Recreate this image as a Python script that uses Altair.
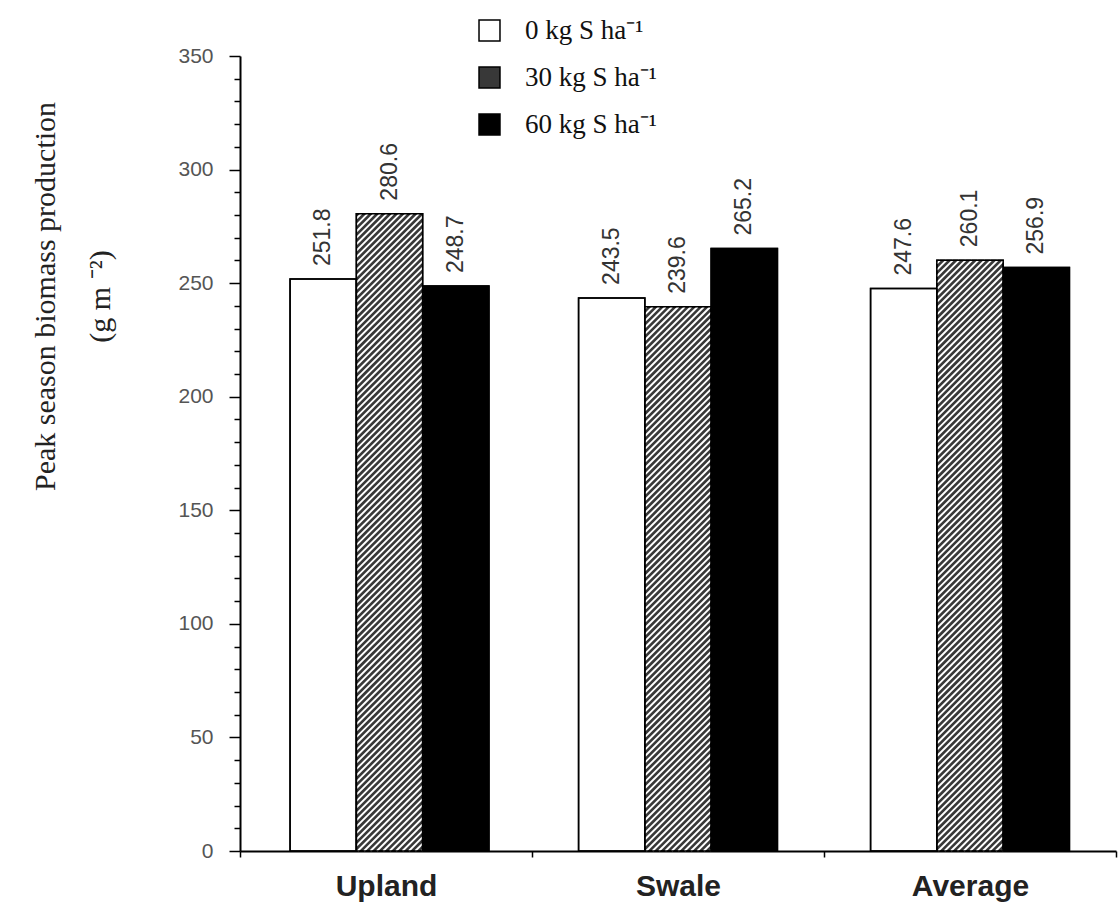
import altair as alt
import pandas as pd

# ---------------- data ----------------
sites = ["Upland", "Swale", "Average"]
treatments = ["0 kg S ha⁻¹", "30 kg S ha⁻¹", "60 kg S ha⁻¹"]
vals_0 = [251.8, 243.5, 247.6]
vals_30 = [280.6, 239.6, 260.1]
vals_60 = [248.7, 265.2, 256.9]
fills = ["white", "#383838", "black"]

# ---------------- layout ----------------
W, H = 876, 795
YMAX = 350
BAR_W = 0.227  # bar width in group units

rows = []
for gi, site in enumerate(sites):
    for ti, (t, vals) in enumerate(zip(treatments, [vals_0, vals_30, vals_60])):
        x0 = gi + 0.5 + (ti - 1.5) * BAR_W
        if gi == 0:
            x0 += 0.012
        rows.append(dict(site=site, treatment=t, value=vals[gi],
                         x0=x0, x1=x0 + BAR_W, xc=x0 + BAR_W / 2,
                         label=f"{vals[gi]:.1f}"))
df = pd.DataFrame(rows)

# hatch lines (///) for the 30 kg bars, derived from the bar geometry
px_x = W / 3.0
px_y = H / YMAX
period = 6.4
hatch = []
for r in df[df.treatment == treatments[1]].itertuples():
    bw = BAR_W * px_x
    bh = r.value * px_y
    c = -bw + 1.0
    while c < bh:
        u0 = max(0.0, -c)
        u1 = min(bw, bh - c)
        if u1 > u0:
            hatch.append(dict(hx=r.x0 + u0 / px_x, hy=(u0 + c) / px_y,
                              hx2=r.x0 + u1 / px_x, hy2=(u1 + c) / px_y))
        c += period
hdf = pd.DataFrame(hatch)

site_expr = " : ".join(
    [f"datum.value == {gi + 0.5} ? '{s}'" for gi, s in enumerate(sites)]) + " : ''"

xscale = alt.Scale(domain=[0, 3], nice=False, zero=False)
yscale = alt.Scale(domain=[0, YMAX], nice=False)

x_values = [0, 0.5, 1, 1.5, 2, 2.5, 3]
y_values = list(range(0, YMAX + 1, 10))

xaxis = alt.Axis(
    values=x_values, tickCount=len(x_values) + 5,
    labelExpr=site_expr,
    tickOpacity={"condition": {"test": "datum.value % 1 == 0", "value": 1}, "value": 0},
    tickSize=6, tickColor="black", tickWidth=1.5,
    domainColor="black", domainWidth=2,
    labelFont="Liberation Sans", labelFontSize=30, labelFontWeight="bold",
    labelColor="#222", labelPadding=14, labelOverlap=False, labelFlush=False,
    grid=False, title=None,
)

yaxis = alt.Axis(
    values=y_values, tickCount=len(y_values) + 5,
    labelExpr="datum.value % 50 == 0 ? datum.label : ''",
    tickSize={"condition": {"test": "datum.value % 50 == 0", "value": 11}, "value": 6},
    tickColor="black", tickWidth=1.5,
    domainColor="black", domainWidth=2,
    labelFont="Liberation Sans", labelFontSize=21, labelColor="#555",
    labelPadding=16, labelOverlap=False, labelFlush=False,
    grid=False,
    title=["Peak season biomass production", "(g m ⁻²)"],
    titleFont="Liberation Serif", titleFontSize=30, titleFontWeight="normal",
    titleColor="#222", titleAngle=270, titleAlign="center", titleBaseline="middle",
    titleLineHeight=55, titleX=-195, titleY=240,
)

bars = alt.Chart(df).mark_rect(stroke="black", strokeWidth=1.5).encode(
    x=alt.X("x0:Q", scale=xscale, axis=xaxis),
    x2="x1:Q",
    y=alt.Y("value:Q", scale=yscale, axis=yaxis),
    y2=alt.datum(0),
    fill=alt.Fill("treatment:N",
                  scale=alt.Scale(domain=treatments, range=fills),
                  legend=alt.Legend(
                      orient="none", legendX=236, legendY=-39,
                      title=None, symbolType="square", symbolSize=440,
                      symbolStrokeColor="black", symbolStrokeWidth=1.5,
                      labelFont="Liberation Serif", labelFontSize=27,
                      labelColor="#111", labelOffset=22, rowPadding=19,
                      labelExpr="datum.label == '0 kg S ha⁻¹' ? '\u2007' + datum.label : datum.label",
                  )),
)

hatch_layer = alt.Chart(hdf).mark_rule(color="white", strokeWidth=1.9).encode(
    x=alt.X("hx:Q", scale=xscale),
    y=alt.Y("hy:Q", scale=yscale),
    x2="hx2:Q",
    y2="hy2:Q",
)

outline = alt.Chart(df).mark_rect(fillOpacity=0, stroke="black", strokeWidth=1.5).encode(
    x=alt.X("x0:Q", scale=xscale),
    x2="x1:Q",
    y=alt.Y("value:Q", scale=yscale),
    y2=alt.datum(0),
)

labels = alt.Chart(df).mark_text(
    angle=270, align="left", baseline="middle", dx=13,
    font="Liberation Sans", fontSize=23, color="#333",
).encode(
    x=alt.X("xc:Q", scale=xscale),
    y=alt.Y("value:Q", scale=yscale),
    text="label:N",
)

chart = alt.layer(bars, hatch_layer, outline, labels).properties(
    width=W, height=H,
    autosize=alt.AutoSizeParams(type="none"),
    padding={"left": 240, "top": 56, "right": 3, "bottom": 58},
    background="white",
).configure_view(stroke=None)

chart.save("out.html", embed_options={"renderer": "svg", "actions": False})
